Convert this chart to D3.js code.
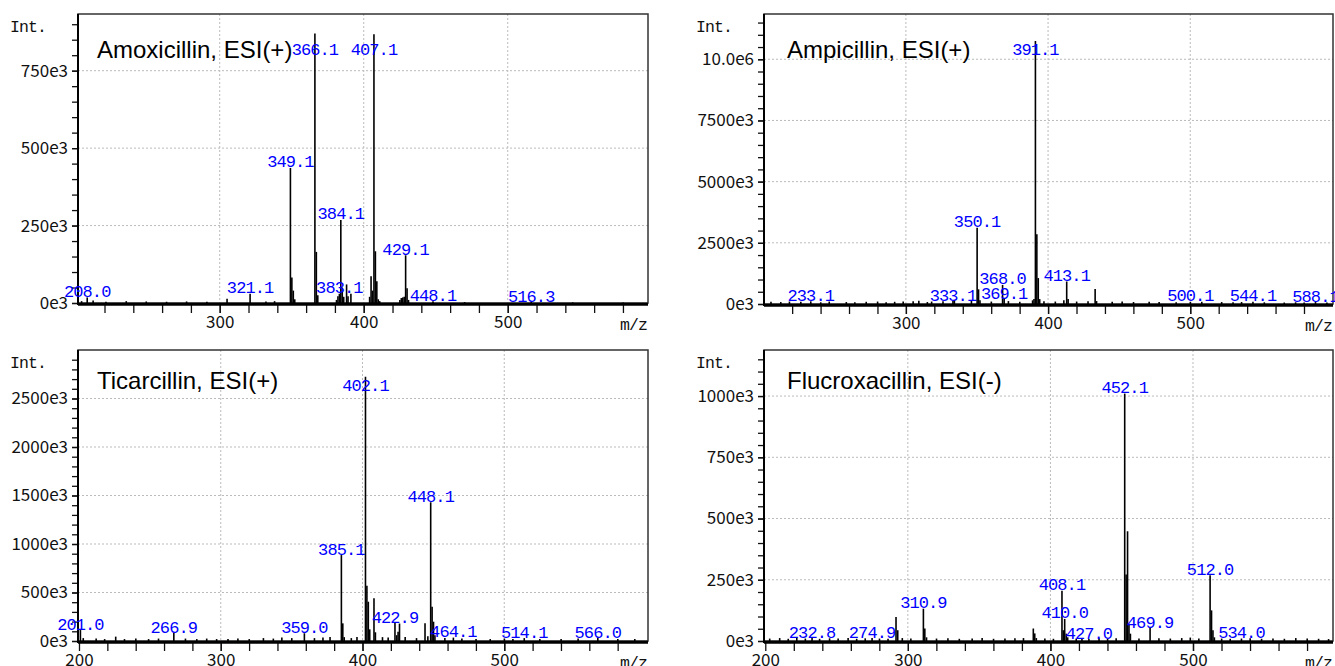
<!DOCTYPE html>
<html>
<head>
<meta charset="utf-8">
<script src="https://cdn.jsdelivr.net/npm/d3@7"></script>
<style>
  body { margin: 0; background: #fff; }
  .tick-label { font-family: "Noto Sans CJK JP", "Noto Sans", sans-serif; font-size: 17px; fill: #111; }
  .mono { font-family: "Liberation Mono", "DejaVu Sans Mono", monospace; font-size: 16.5px; letter-spacing: -0.9px; fill: #111; }
  .peak-label { font-family: "Liberation Mono", "DejaVu Sans Mono", monospace; font-size: 17px; letter-spacing: -0.9px; fill: #0000ff; }
  .title { font-family: "Liberation Sans", Arial, sans-serif; font-size: 24px; fill: #000; }
  .grid { stroke: #bbb; stroke-dasharray: 2,2; stroke-width: 1; }
</style>
</head>
<body>
<svg id="chart" width="1335" height="666"></svg>
<script>
// ---- Amoxicillin, ESI(+) ----
var amoxMz = [204.1, 208.0, 212.1, 221.0, 235.1, 249.0, 263.1, 277.0, 291.1, 305.1, 321.1, 332.1, 338.1,
  349.1, 350.1, 351.1, 352.1, 366.1, 367.1, 368.1, 381.1, 382.1, 383.1, 384.1, 385.1, 386.1, 388.1, 389.1,
  391.1, 404.1, 405.1, 406.1, 407.1, 408.1, 409.1, 410.1, 411.1, 425.1, 426.1, 427.1, 428.1, 429.1, 430.1,
  431.1, 448.1, 470.1, 516.3, 545.1, 580.1];
var amoxInt = [6e3, 18e3, 8e3, 4e3, 6e3, 5e3, 4e3, 5e3, 4e3, 14e3, 30e3, 5e3, 6e3,
  436e3, 82e3, 40e3, 12e3, 870e3, 165e3, 25e3, 10e3, 22e3, 30e3, 268e3, 50e3, 20e3, 60e3, 22e3,
  30e3, 20e3, 86e3, 40e3, 868e3, 167e3, 70e3, 12e3, 6e3, 10e3, 16e3, 18e3, 20e3, 154e3, 48e3,
  10e3, 6e3, 3e3, 3e3, 2e3, 2e3];
var amoxLabels = [208.0, 321.1, 349.1, 366.1, 383.1, 384.1, 407.1, 429.1, 448.1, 516.3];
var amoxYTicks = [0, 250e3, 500e3, 750e3];
var amoxYText = ["0e3", "250e3", "500e3", "750e3"];
var amoxXTicks = [300, 400, 500];

// ---- Ampicillin, ESI(+) ----
var ampMz = [205.1, 212.0, 218.1, 226.1, 233.1, 240.1, 246.1, 258.1, 264.1, 272.1, 280.1, 286.1, 292.1,
  298.1, 305.1, 309.1, 315.1, 318.1, 326.1, 333.1, 334.1, 346.1, 350.1, 351.1, 352.1, 360.1, 368.0, 369.1,
  372.1, 380.1, 389.1, 390.1, 391.1, 392.1, 393.1, 394.1, 397.1, 405.1, 411.1, 413.1, 414.1, 420.1, 428.1,
  433.1, 434.1, 445.1, 452.1, 460.1, 471.1, 478.1, 490.1, 500.1, 508.1, 522.1, 530.1, 536.1, 544.1, 552.1,
  566.1, 574.1, 580.1, 588.1, 596.1];
var ampInt = [90e3, 80e3, 100e3, 90e3, 110e3, 70e3, 100e3, 80e3, 70e3, 90e3, 100e3, 70e3, 90e3,
  100e3, 110e3, 130e3, 80e3, 100e3, 110e3, 120e3, 160e3, 130e3, 3.12e6, 600e3, 150e3, 100e3, 780e3, 200e3,
  120e3, 90e3, 150e3, 200e3, 10.75e6, 2.85e6, 1.06e6, 200e3, 110e3, 100e3, 150e3, 920e3, 200e3, 100e3, 110e3,
  610e3, 120e3, 90e3, 100e3, 80e3, 90e3, 80e3, 70e3, 90e3, 90e3, 80e3, 70e3, 80e3, 90e3, 70e3,
  60e3, 70e3, 60e3, 80e3, 60e3];
var ampLabels = [233.1, 333.1, 350.1, 368.0, 369.1, 391.1, 413.1, 500.1, 544.1, 588.1];
var ampYTicks = [0, 2500e3, 5000e3, 7500e3, 10e6];
var ampYText = ["0e3", "2500e3", "5000e3", "7500e3", "10.0e6"];
var ampXTicks = [300, 400, 500];

// ---- Ticarcillin, ESI(+) ----
var ticMz = [201.0, 203.0, 212.1, 218.1, 225.9, 232.1, 240.1, 249.1, 256.1, 266.9, 275.1, 283.1, 290.1,
  297.1, 305.1, 312.1, 320.1, 330.1, 337.1, 343.1, 350.1, 359.0, 366.1, 372.1, 377.1, 385.1, 386.1, 387.1,
  392.1, 396.1, 402.1, 403.1, 404.1, 405.1, 408.1, 409.1, 414.1, 418.1, 422.9, 424.1, 425.1, 426.1, 430.1,
  438.1, 444.1, 446.1, 448.1, 449.1, 450.1, 451.1, 458.1, 464.1, 470.1, 480.1, 490.1, 500.1, 506.1, 514.1,
  525.1, 540.1, 552.1, 566.0, 580.1, 592.1];
var ticInt = [113e3, 30e3, 25e3, 20e3, 45e3, 20e3, 25e3, 20e3, 25e3, 82e3, 25e3, 20e3, 25e3,
  20e3, 20e3, 25e3, 20e3, 30e3, 25e3, 35e3, 30e3, 80e3, 30e3, 35e3, 40e3, 886e3, 182e3, 40e3,
  30e3, 40e3, 2.725e6, 570e3, 405e3, 120e3, 440e3, 90e3, 40e3, 35e3, 185e3, 60e3, 95e3, 180e3, 40e3,
  30e3, 182e3, 50e3, 1.43e6, 354e3, 199e3, 60e3, 30e3, 35e3, 25e3, 20e3, 20e3, 25e3, 20e3, 30e3,
  20e3, 20e3, 25e3, 30e3, 20e3, 20e3];
var ticLabels = [201.0, 266.9, 359.0, 385.1, 402.1, 422.9, 448.1, 464.1, 514.1, 566.0];
var ticYTicks = [0, 500e3, 1000e3, 1500e3, 2000e3, 2500e3];
var ticYText = ["0e3", "500e3", "1000e3", "1500e3", "2000e3", "2500e3"];
var ticXTicks = [200, 300, 400, 500];

// ---- Flucroxacillin, ESI(-) ----
var fluMz = [203.1, 210.1, 216.1, 222.1, 228.1, 232.8, 238.1, 245.1, 251.1, 258.1, 264.1, 270.1, 274.9,
  280.1, 286.1, 291.7, 292.9, 296.1, 302.1, 310.9, 311.9, 313.1, 320.1, 328.1, 336.1, 345.1, 352.1, 360.1,
  368.1, 375.1, 381.1, 388.0, 389.0, 390.1, 396.1, 402.1, 408.1, 409.1, 410.0, 411.1, 412.1, 418.1, 422.1,
  427.0, 434.1, 440.1, 446.1, 452.1, 453.1, 454.1, 455.1, 456.1, 462.1, 469.9, 476.1, 484.1, 492.1, 498.1,
  504.1, 512.0, 513.0, 514.0, 515.0, 520.1, 526.1, 534.0, 540.1, 548.1, 556.1, 564.1, 572.1, 580.1, 588.1, 595.1];
var fluInt = [10e3, 12e3, 9e3, 14e3, 10e3, 12e3, 9e3, 11e3, 10e3, 12e3, 9e3, 11e3, 12e3,
  10e3, 9e3, 98e3, 44e3, 12e3, 10e3, 132e3, 51e3, 15e3, 10e3, 11e3, 9e3, 10e3, 12e3, 9e3,
  10e3, 11e3, 12e3, 51e3, 31e3, 12e3, 10e3, 9e3, 205e3, 44e3, 90e3, 30e3, 15e3, 10e3, 9e3,
  8e3, 10e3, 9e3, 11e3, 1.01e6, 271e3, 448e3, 70e3, 30e3, 10e3, 53e3, 11e3, 10e3, 12e3, 14e3,
  10e3, 268e3, 125e3, 44e3, 15e3, 10e3, 9e3, 10e3, 11e3, 9e3, 10e3, 9e3, 12e3, 10e3, 9e3, 8e3];
var fluLabels = [232.8, 274.9, 310.9, 408.1, 410.0, 427.0, 452.1, 469.9, 512.0, 534.0];
var fluYTicks = [0, 250e3, 500e3, 750e3, 1000e3];
var fluYText = ["0e3", "250e3", "500e3", "750e3", "1000e3"];
var fluXTicks = [200, 300, 400, 500];

var panels = [
  { title: "Amoxicillin, ESI(+)", mz: amoxMz, inten: amoxInt, labels: amoxLabels,
    yTicks: amoxYTicks, yText: amoxYText, yMinor: 50e3, xTicks: amoxXTicks,
    xDomain: [201.6, 597.4], yMax: 933e3,
    left: 78, top: 14, right: 648, bottom: 303, titleX: 97, titleY: 58 },
  { title: "Ampicillin, ESI(+)", mz: ampMz, inten: ampInt, labels: ampLabels,
    yTicks: ampYTicks, yText: ampYText, yMinor: 500e3, xTicks: ampXTicks,
    xDomain: [200.2, 600.4], yMax: 11.85e6,
    left: 764, top: 14, right: 1333, bottom: 304, titleX: 787, titleY: 58 },
  { title: "Ticarcillin, ESI(+)", mz: ticMz, inten: ticInt, labels: ticLabels,
    yTicks: ticYTicks, yText: ticYText, yMinor: 100e3, xTicks: ticXTicks,
    xDomain: [199.3, 601.4], yMax: 3.0e6,
    left: 78, top: 350, right: 648, bottom: 641, titleX: 97, titleY: 389 },
  { title: "Flucroxacillin, ESI(-)", mz: fluMz, inten: fluInt, labels: fluLabels,
    yTicks: fluYTicks, yText: fluYText, yMinor: 50e3, xTicks: fluXTicks,
    xDomain: [199.1, 598.2], yMax: 1.188e6,
    left: 764, top: 350, right: 1333, bottom: 641, titleX: 787, titleY: 389 }
];

var svg = d3.select("#chart");

function drawPanel(p, idx) {
  var x = d3.scaleLinear().domain(p.xDomain).range([p.left, p.right]);
  var y = d3.scaleLinear().domain([0, p.yMax]).range([p.bottom, p.top]);
  var g = svg.append("g");

  // grid
  g.selectAll(".gy").data(p.yTicks.filter(function (d) { return d > 0; }))
    .enter().append("line").attr("class", "grid")
    .attr("x1", p.left).attr("x2", p.right)
    .attr("y1", function (d) { return y(d); }).attr("y2", function (d) { return y(d); });
  g.selectAll(".gx").data(p.xTicks.filter(function (d) { return x(d) > p.left + 3; }))
    .enter().append("line").attr("class", "grid")
    .attr("y1", p.top).attr("y2", p.bottom)
    .attr("x1", function (d) { return x(d); }).attr("x2", function (d) { return x(d); });

  // frame
  g.append("rect")
    .attr("x", p.left).attr("y", p.top)
    .attr("width", p.right - p.left).attr("height", p.bottom - p.top)
    .attr("fill", "none").attr("stroke", "#333").attr("stroke-width", 1.5);

  // sticks
  var clipId = "clip" + idx;
  g.append("clipPath").attr("id", clipId).append("rect")
    .attr("x", p.left).attr("y", p.top)
    .attr("width", p.right - p.left).attr("height", p.bottom - p.top);
  g.append("g").attr("clip-path", "url(#" + clipId + ")")
    .selectAll("line").data(p.mz)
    .enter().append("line")
    .attr("x1", function (d) { return x(d); }).attr("x2", function (d) { return x(d); })
    .attr("y1", p.bottom)
    .attr("y2", function (d, i) { return y(p.inten[i]); })
    .attr("stroke", "#000").attr("stroke-width", 1.6);

  // y axis: minor then major
  var minor = d3.range(0, p.yMax, p.yMinor);
  var yMinorAxis = d3.axisLeft(y).tickValues(minor).tickSize(6).tickFormat("");
  g.append("g").attr("transform", "translate(" + p.left + ",0)").call(yMinorAxis)
    .call(function (a) { a.select(".domain").remove(); })
    .selectAll("line").attr("stroke", "#111").attr("stroke-width", 1.3);

  var yAxis = d3.axisLeft(y).tickValues(p.yTicks).tickSize(6).tickPadding(4)
    .tickFormat(function (d, i) { return p.yText[i]; });
  var ya = g.append("g").attr("transform", "translate(" + p.left + ",0)").call(yAxis)
    .attr("font-size", null).attr("font-family", null);
  ya.select(".domain").remove();
  ya.selectAll("line").attr("stroke", "#111").attr("stroke-width", 1.3);
  ya.selectAll("text").attr("class", "tick-label").attr("fill", null);

  // x axis
  var xMinor = d3.range(220, 600, 20);
  var xMinorAxis = d3.axisBottom(x).tickValues(xMinor).tickSize(8).tickFormat("");
  g.append("g").attr("transform", "translate(0," + (p.bottom + 2) + ")").call(xMinorAxis)
    .call(function (a) { a.select(".domain").remove(); })
    .selectAll("line").attr("stroke", "#111").attr("stroke-width", 1.3);

  var xAxis = d3.axisBottom(x).tickValues(p.xTicks).tickSize(8).tickPadding(3).tickFormat(d3.format("d"));
  var xa = g.append("g").attr("transform", "translate(0," + (p.bottom + 2) + ")").call(xAxis)
    .attr("font-size", null).attr("font-family", null);
  xa.select(".domain").remove();
  xa.selectAll("line").attr("stroke", "#111").attr("stroke-width", 1.3);
  xa.selectAll("text").attr("class", "tick-label").attr("fill", null);

  // axis lines
  g.append("line").attr("x1", p.left).attr("x2", p.right)
    .attr("y1", p.bottom + 1.2).attr("y2", p.bottom + 1.2)
    .attr("stroke", "#000").attr("stroke-width", 3);
  g.append("line").attr("x1", p.left).attr("x2", p.left)
    .attr("y1", p.top).attr("y2", p.bottom + 2)
    .attr("stroke", "#000").attr("stroke-width", 2);

  // peak labels
  g.selectAll(".peak-label").data(p.labels)
    .enter().append("text").attr("class", "peak-label")
    .attr("text-anchor", "middle")
    .attr("x", function (d) { return x(d); })
    .attr("y", function (d) {
      var v = p.inten[p.mz.indexOf(d)];
      return Math.max(y(v) - 0.5, p.top + 41);
    })
    .text(function (d) { return d.toFixed(1); });

  // texts
  g.append("text").attr("class", "title").attr("x", p.titleX).attr("y", p.titleY).text(p.title);
  g.append("text").attr("class", "mono").attr("x", p.left - 68).attr("y", p.top + 18).text("Int.");
  g.append("text").attr("class", "mono").attr("text-anchor", "end")
    .attr("x", p.right - 1).attr("y", p.bottom + 27).text("m/z");
}

panels.forEach(drawPanel);
</script>
</body>
</html>
